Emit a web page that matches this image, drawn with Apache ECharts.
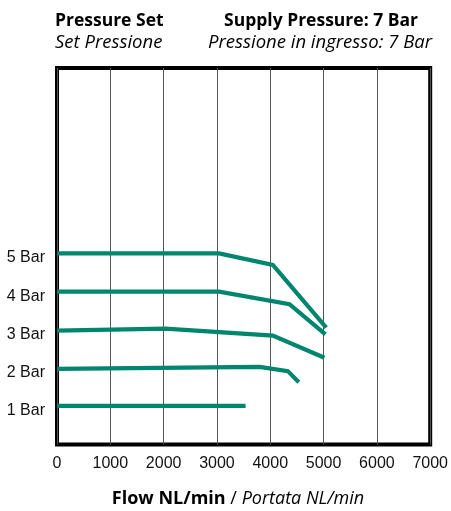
<!DOCTYPE html>
<html>
<head>
<meta charset="utf-8">
<script src="https://cdn.jsdelivr.net/npm/echarts@6/dist/echarts.min.js"></script>
<style>
html,body{margin:0;padding:0;background:#fff;}
#chart{width:451px;height:511px;}
</style>
</head>
<body>
<div id="chart"></div>
<script>
// Flow (NL/min) vs outlet pressure (Bar), supply pressure 7 Bar
const xTicks = [0, 1000, 2000, 3000, 4000, 5000, 6000, 7000];
const pressureLabels = ['1 Bar', '2 Bar', '3 Bar', '4 Bar', '5 Bar'];
const set5 = [[0, 5.0], [3040, 5.0], [4048, 4.70], [5050, 3.06]];
const set4 = [[0, 4.0], [3040, 4.0], [4360, 3.67], [5035, 2.88]];
const set3 = [[0, 2.98], [2034, 3.03], [4048, 2.85], [5016, 2.27]];
const set2 = [[0, 1.98], [3800, 2.03], [4330, 1.92], [4535, 1.63]];
const set1 = [[0, 1.01], [3537, 1.01]];

const chart = echarts.init(document.getElementById('chart'));
const green = '#00856F';
const font = '"Open Sans", "Noto Sans", sans-serif';
function lineSeries(name, data) {
  return {
    name: name, type: 'line', data: data, symbol: 'none', animation: false,
    lineStyle: { color: green, width: 4.2, cap: 'butt', join: 'miter' }
  };
}
function txt(x, y, s, f, align) {
  return { type: 'text', style: { x: x, y: y, text: s, font: f, fill: '#000', align: align, verticalAlign: 'middle' } };
}
chart.setOption({
  animation: false,
  grid: { left: 57, right: 20, top: 68, bottom: 66.5, show: true, borderWidth: 4, borderColor: '#000', backgroundColor: 'transparent' },
  xAxis: {
    type: 'value', min: 0, max: 7000, interval: 1000,
    axisLine: { show: false }, axisTick: { show: false },
    splitLine: { show: true, lineStyle: { color: '#555', width: 1 } },
    axisLabel: {
      margin: 11, color: '#111', fontSize: 16, fontFamily: 'Liberation Sans, Arial, sans-serif',
      formatter: v => xTicks.indexOf(v) >= 0 ? String(v) : ''
    }
  },
  yAxis: {
    type: 'value', min: 0, max: 9.85, interval: 1,
    axisLine: { show: false }, axisTick: { show: false }, splitLine: { show: false },
    axisLabel: {
      margin: 12, color: '#111', fontSize: 16, fontFamily: 'Liberation Sans, Arial, sans-serif',
      verticalAlign: 'top', lineHeight: 9,
      formatter: v => (v >= 1 && v <= 5 && Number.isInteger(v)) ? pressureLabels[v - 1] : ''
    }
  },
  graphic: [
    txt(55, 21, 'Pressure Set', 'bold 17.5px ' + font, 'left'),
    txt(55, 42.5, 'Set Pressione', 'italic 18.5px ' + font, 'left'),
    txt(418, 21, 'Supply Pressure: 7 Bar', 'bold 17.5px ' + font, 'right'),
    txt(432, 42.5, 'Pressione in ingresso: 7 Bar', 'italic 18.5px ' + font, 'right'),
    { type: 'text', style: {
        x: 238, y: 499, align: 'center', verticalAlign: 'middle',
        text: '{b|Flow NL/min}{r| / }{i|Portata NL/min}',
        rich: {
          b: { font: 'bold 18px ' + font, fill: '#000' },
          r: { font: '18px ' + font, fill: '#000' },
          i: { font: 'italic 18px ' + font, fill: '#000' }
        }
    } }
  ],
  series: [
    lineSeries('5 Bar', set5),
    lineSeries('4 Bar', set4),
    lineSeries('3 Bar', set3),
    lineSeries('2 Bar', set2),
    lineSeries('1 Bar', set1)
  ]
});
</script>
</body>
</html>
